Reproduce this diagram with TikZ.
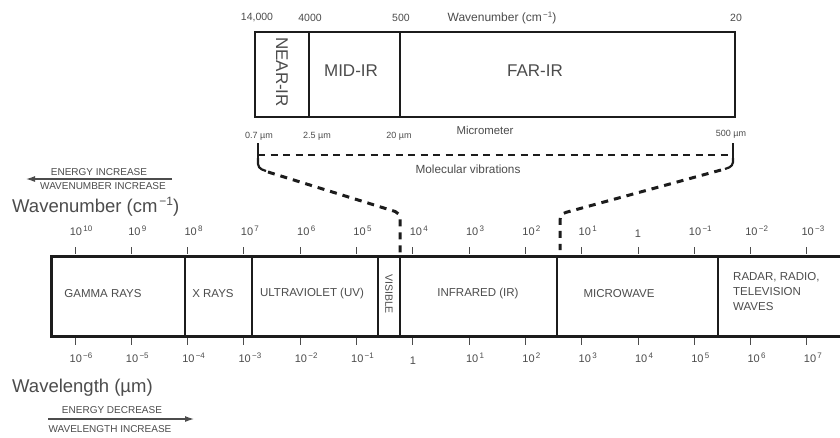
\documentclass[tikz,border=0pt]{standalone}
\usepackage{fontspec}
\setmainfont{Liberation Sans}
\usetikzlibrary{arrows.meta}
\definecolor{ink}{HTML}{1C1C1C}
\definecolor{txt}{HTML}{4C4C4C}
\newcommand\pw[1]{10\raisebox{0.65ex}{\fontsize{8}{8}\selectfont\,#1}}
\newcommand\fs[1]{\fontsize{#1}{#1}\selectfont}
\tikzset{
  lab/.style={text=txt, inner sep=0pt, font=\fs{10.5}},
  tlab/.style={text=txt, inner sep=0pt, font=\fs{11}},
  band/.style={text=txt, inner sep=0pt, font=\fs{11.5}},
  big/.style={text=txt, inner sep=0pt, font=\fs{17}},
  axis/.style={text=txt, inner sep=0pt, font=\fs{18.5}, anchor=west},
  small/.style={text=txt, inner sep=0pt, font=\fs{9}},
  note/.style={text=txt, inner sep=0pt, font=\fs{10}},
  frame/.style={draw=ink, line width=2.6pt},
  divider/.style={draw=ink, line width=1.9pt},
  tickmark/.style={draw=txt, line width=1pt},
  thickdash/.style={draw=ink, line width=3pt, dash pattern=on 7pt off 6pt},
  thindash/.style={draw=ink, line width=1.5pt, dash pattern=on 7pt off 5.5pt},
  solidline/.style={draw=ink, line width=2.2pt},
  dirarrow/.style={draw=txt, line width=1.2pt, -{Latex[length=9pt,width=6pt]}},
}
\begin{document}
\begin{tikzpicture}[x=1pt,y=-1pt]
\useasboundingbox (0,0) rectangle (840,437);
\fill[white] (0,0) rectangle (840,437);

% ---------- top IR box ----------
\draw[frame] (255,32) rectangle (735,117);
\draw[divider] (309,32) -- (309,117);
\draw[divider] (400,32) -- (400,117);
\node[big, rotate=-90] (nearir) at (282,72) {NEAR-IR};
\node[big] (midir) at (351,71) {MID-IR};
\node[big] (farir) at (535,71) {FAR-IR};

\node[lab] (w14000) at (257,18) {14,000};
\node[lab] (w4000) at (310,18) {4000};
\node[lab] (w500) at (401,18) {500};
\node[lab, font=\fs{12}] (wtitle) at (502,18) {Wavenumber (cm\raisebox{0.6ex}{\fs{8}\,−1})};
\node[lab] (w20) at (736,18) {20};

\node[small] (l07) at (259,136) {0.7 µm};
\node[small] (l25) at (317,136) {2.5 µm};
\node[small] (l20) at (399,136) {20 µm};
\node[lab, font=\fs{11.4}] (micro) at (485,130) {Micrometer};
\node[small] (l500) at (731,134) {500 µm};
\node[lab, font=\fs{11.8}] (molvib) at (468,169) {Molecular vibrations};

% bracket
\coordinate (bl) at (258,143);
\coordinate (br) at (733,143);
\coordinate (blc) at (258,155);
\coordinate (brc) at (733,155);
\draw[solidline] (bl) -- (258,160);
\draw[solidline] (br) -- (733,160);
\draw[thindash] (blc) -- (brc);
\draw[solidline, rounded corners=4pt] (258,158) -- (258,168) -- (266,171);
\draw[solidline, rounded corners=4pt] (733,158) -- (733,166) -- (725,169);
\coordinate (ldA) at (268,172);
\coordinate (ldB) at (400,213);
\coordinate (ldC) at (400,256);
\coordinate (rdA) at (721,170);
\coordinate (rdB) at (560,214);
\coordinate (rdC) at (560,250);
\draw[thickdash, rounded corners=5pt] (ldA) -- (ldB) -- (ldC);
\draw[thickdash, rounded corners=6pt] (rdA) -- (rdB) -- (rdC);

% ---------- main spectrum band ----------
\draw[draw=ink, line width=3pt] (841,256) -- (51,256) -- (51,336) -- (841,336);
\foreach \x in {185,252,378,400,557,718}
  \draw[divider] (\x,256) -- (\x,336);

\node[band] (gamma) at (103,294) {GAMMA RAYS};
\node[band] (xray) at (213,294) {X RAYS};
\node[band] (uv) at (312,294) {ULTRAVIOLET (UV)};
\node[band, rotate=-90, font=\fs{10.5}] (vis) at (389,294) {VISIBLE};
\node[band] (ir) at (478,294) {INFRARED (IR)};
\node[band] (mw) at (619,294) {MICROWAVE};
\node[band, anchor=north west, align=left, font=\fs{11.5}] (radar) at (733,272) {RADAR, RADIO,\\[3.4pt]TELEVISION\\[3.4pt]WAVES};

% ticks
\foreach \k in {0,...,13} {
  \pgfmathsetmacro\xx{75+56.3*\k}
  \draw[tickmark] (\xx,247) -- (\xx,254);
  \draw[tickmark] (\xx,338) -- (\xx,345);
}
% top wavenumber labels
\foreach \k/\e in {0/10,1/9,2/8,3/7,4/6,5/5,6/4,7/3,8/2,9/1,11/−1,12/−2,13/−3}{
  \pgfmathsetmacro\xx{75+56.3*\k+6}
  \node[tlab] (wn\k) at (\xx,231) {\pw{\e}};
}
\node[tlab] (wn10) at (638,234) {1};
% bottom wavelength labels
\foreach \k/\e in {0/−6,1/−5,2/−4,3/−3,4/−2,5/−1,7/1,8/2,9/3,10/4,11/5,12/6,13/7}{
  \pgfmathsetmacro\xx{75+56.3*\k+6}
  \node[tlab] (wl\k) at (\xx,358) {\pw{\e}};
}
\node[tlab] (wl6) at (413,361) {1};

% ---------- axis titles and arrows ----------
\node[axis] (wnaxis) at (12,207) {Wavenumber (cm\raisebox{0.75ex}{\fs{12}\,−1})};
\node[axis] (wlaxis) at (12,388) {Wavelength (µm)};

\coordinate (ta1) at (172,179);
\coordinate (ta2) at (26,179);
\draw[dirarrow] (ta1) -- (ta2);
\node[note] (ei) at (99,172) {ENERGY INCREASE};
\node[note] (wi) at (103,186) {WAVENUMBER INCREASE};

\coordinate (ba1) at (48,419);
\coordinate (ba2) at (194,419);
\draw[dirarrow] (ba1) -- (ba2);
\node[note] (ed) at (112,410) {ENERGY DECREASE};
\node[note] (wli) at (110,429) {WAVELENGTH INCREASE};
\end{tikzpicture}
\end{document}
